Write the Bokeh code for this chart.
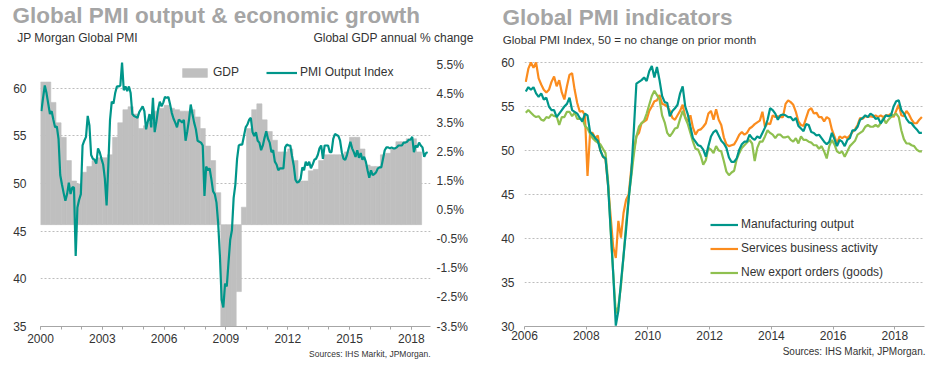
from bokeh.plotting import figure
from bokeh.models import (Range1d, LinearAxis, FixedTicker, PrintfTickFormatter,
                          Legend, LegendItem, Title)
from bokeh.layouts import row
from bokeh.embed import file_html
from bokeh.resources import INLINE

FONT = "Liberation Sans"
TEAL = "#00968a"
ORANGE = "#fb8c1e"
GREEN = "#8fc050"
BAR = "#bfbfbf"
GRID = "#bdbdbd"
TXT = "#333333"
TITLE = "#a5a5a5"

# ---------------- Left panel data ----------------
pmi_start_year = 2000
# JP Morgan Global PMI output index, monthly from Jan 2000
pmi_output = [
    57.6, 59.0, 60.3, 59.5, 58.4, 57.3, 57.6, 56.7, 55.9, 56.0, 54.7, 50.9,  # 2000
    49.9, 49.0, 48.2, 48.9, 50.1, 48.9, 49.6, 49.6, 42.4, 47.5, 48.3, 48.9,  # 2001
    54.0, 54.5, 54.9, 57.1, 56.1, 53.0, 52.6, 52.5, 52.1, 53.7, 53.3, 52.6,  # 2002
    52.0, 50.5, 47.7, 51.9, 56.7, 58.6, 58.4, 59.5, 60.2, 60.2, 60.3, 62.7,  # 2003
    59.8, 60.2, 59.7, 60.2, 59.5, 57.3, 57.1, 57.0, 56.9, 57.5, 57.8, 58.1,  # 2004
    57.6, 55.7, 56.5, 57.3, 55.9, 59.0, 55.4, 56.5, 57.8, 58.6, 58.1, 58.5,  # 2005
    59.1, 59.0, 59.1, 58.3, 57.4, 56.8, 56.4, 55.9, 56.7, 56.6, 56.4, 56.7,  # 2006
    54.5, 55.5, 56.7, 58.3, 57.3, 56.4, 55.7, 54.5, 54.4, 54.3, 54.0, 48.7,  # 2007
    51.8, 51.4, 51.6, 50.5, 49.2, 48.9, 48.0, 45.8, 42.4, 37.8, 37.0, 39.5,  # 2008
    39.2, 41.7, 44.1, 45.1, 48.5, 49.9, 52.6, 54.0, 54.1, 54.1, 55.0, 55.9,  # 2009
    56.2, 56.7, 56.9, 55.4, 55.0, 55.4, 54.5, 54.3, 53.5, 54.0, 54.8, 55.5,  # 2010
    54.7, 54.3, 53.3, 53.5, 52.3, 52.0, 51.4, 51.6, 51.6, 51.6, 53.8, 54.1,  # 2011
    54.0, 54.0, 52.9, 51.9, 50.4, 50.1, 50.2, 50.5, 51.7, 51.4, 52.3, 51.9,  # 2012
    52.3, 51.6, 52.0, 52.5, 52.6, 53.0, 53.7, 54.0, 52.6, 54.0, 54.0, 54.0,  # 2013
    53.3, 53.3, 54.7, 55.2, 55.1, 55.0, 54.5, 53.3, 52.6, 52.5, 53.0, 53.7,  # 2014
    54.4, 53.7, 53.3, 52.8, 53.5, 52.7, 53.2, 52.5, 52.8, 52.3, 51.4, 50.6,  # 2015
    51.4, 50.9, 51.0, 51.2, 51.6, 51.7, 51.7, 52.6, 53.5, 53.8, 53.8, 53.7,  # 2016
    53.8, 53.7, 53.7, 53.8, 54.0, 54.0, 54.0, 54.3, 54.3, 54.4, 54.6, 54.6,  # 2017
    54.9, 53.3, 54.0, 53.8, 54.3, 54.0, 53.8, 52.8, 53.2, 53.3,              # 2018
]
# Global GDP, annual % change, quarterly from 2000 Q1
gdp_growth = [
    4.9, 4.9, 4.2, 3.5,      # 2000
    3.0, 2.2, 1.5, 1.4,      # 2001
    1.8, 2.0, 2.2, 2.3,      # 2002
    2.3, 2.4, 3.0, 3.5,      # 2003
    3.95, 4.05, 3.8, 3.3,    # 2004
    3.4, 3.5, 3.9, 4.0,      # 2005
    4.1, 4.0, 3.95, 3.9,     # 2006
    3.9, 3.95, 3.7, 3.3,     # 2007
    2.7, 2.2, 1.1, -3.8,     # 2008
    -4.5, -4.0, -2.3, 0.6,   # 2009
    3.3, 3.95, 4.15, 3.6,    # 2010
    3.2, 2.9, 2.5, 2.5,      # 2011
    2.6, 2.2, 1.5, 1.5,      # 2012
    1.85, 1.9, 2.2, 2.4,     # 2013
    2.4, 2.4, 2.4, 2.5,      # 2014
    3.0, 3.0, 2.6, 2.05,     # 2015
    2.0, 2.0, 2.4, 2.45,     # 2016
    2.6, 2.85, 2.85, 2.95,   # 2017
    2.95, 2.5,               # 2018
]
left_year_ticks = [2000, 2003, 2006, 2009, 2012, 2015, 2018]
left_pmi_ticks = [35, 40, 45, 50, 55, 60]
left_gdp_ticks = [-3.5, -2.5, -1.5, -0.5, 0.5, 1.5, 2.5, 3.5, 4.5, 5.5]

# ---------------- Right panel data ----------------
ind_start_year = 2006
# Global PMI indices, monthly from Jan 2006
manufacturing_output = [
    56.7, 57.2, 56.9, 57.2, 56.5, 56.1, 56.5, 55.8, 56.0, 55.0, 54.6, 54.6,  # 2006
    53.8, 54.2, 54.6, 55.0, 55.3, 56.0, 54.6, 54.4, 54.2, 53.7, 53.3, 54.2,  # 2007
    54.0, 52.1, 51.8, 51.4, 51.1, 50.0, 49.3, 49.1, 46.0, 41.0, 36.0, 30.1,  # 2008
    31.8, 35.0, 38.0, 41.0, 44.5, 47.4, 52.3, 57.6, 57.8, 58.0, 58.3, 57.9,  # 2009
    59.0, 59.6, 58.3, 59.5, 58.0, 56.2, 55.5, 55.4, 53.9, 54.5, 54.8, 55.2,  # 2010
    56.5, 57.3, 55.0, 54.1, 52.7, 51.4, 51.0, 50.6, 50.5, 50.1, 49.3, 50.5,  # 2011
    51.6, 52.1, 52.3, 51.7, 51.1, 50.8, 50.3, 49.2, 48.7, 48.7, 49.1, 50.1,  # 2012
    50.7, 51.0, 51.0, 51.8, 51.4, 51.2, 51.6, 51.4, 52.0, 52.6, 53.5, 54.8,  # 2013
    54.6, 54.2, 53.5, 54.0, 54.1, 54.0, 53.8, 53.8, 53.4, 53.7, 52.8, 52.5,  # 2014
    52.2, 53.0, 52.9, 52.1, 52.0, 51.7, 51.8, 51.4, 51.0, 50.7, 51.0, 52.0,  # 2015
    51.3, 50.5, 51.2, 51.0, 50.5, 51.2, 51.4, 52.3, 52.3, 52.7, 53.5, 53.7,  # 2016
    54.0, 53.8, 54.2, 54.0, 53.6, 53.7, 53.1, 53.5, 54.0, 53.9, 54.0, 55.0,  # 2017
    55.6, 55.7, 54.6, 54.2, 53.6, 53.2, 53.1, 52.7, 52.4, 52.0, 52.0,        # 2018
]
services_activity = [
    57.8, 59.3, 60.0, 59.4, 60.0, 58.2, 57.5, 56.9, 56.6, 56.9, 57.8, 58.4,  # 2006
    57.3, 58.0, 56.6, 55.8, 57.3, 58.6, 58.8, 56.9, 55.4, 54.4, 54.5, 54.0,  # 2007
    47.1, 52.0, 52.0, 51.4, 51.7, 50.0, 49.3, 49.0, 46.0, 42.5, 39.0, 37.8,  # 2008
    42.0, 40.1, 42.9, 44.4, 45.0, 47.9, 50.0, 51.6, 52.0, 53.1, 53.3, 53.5,  # 2009
    54.5, 55.0, 55.6, 55.7, 56.3, 55.3, 55.2, 55.0, 54.5, 53.7, 53.5, 54.0,  # 2010
    54.5, 55.2, 53.8, 53.3, 54.0, 52.6, 51.8, 52.3, 52.4, 52.7, 53.1, 54.2,  # 2011
    54.5, 53.5, 54.7, 53.5, 52.9, 51.5, 50.7, 50.5, 50.6, 50.7, 51.2, 51.8,  # 2012
    52.1, 51.8, 52.0, 52.5, 52.7, 53.0, 53.2, 53.4, 54.4, 52.7, 53.1, 53.0,  # 2013
    54.0, 53.8, 53.9, 53.8, 53.8, 55.3, 55.7, 55.5, 55.2, 54.4, 53.3, 52.9,  # 2014
    52.8, 53.7, 54.6, 54.8, 54.2, 54.3, 53.8, 53.8, 53.3, 53.8, 53.6, 52.4,  # 2015
    51.6, 50.8, 51.6, 51.4, 51.6, 51.4, 51.7, 52.1, 52.4, 52.9, 53.7, 53.6,  # 2016
    53.9, 53.8, 53.9, 53.8, 54.0, 53.8, 54.0, 53.8, 54.0, 54.0, 54.2, 53.8,  # 2017
    54.5, 55.2, 54.0, 53.9, 54.5, 54.1, 53.5, 53.1, 53.1, 53.5, 53.8,        # 2018
]
new_export_orders = [
    54.3, 54.6, 54.3, 54.0, 53.8, 53.9, 53.5, 53.4, 53.8, 53.7, 54.1, 53.9,  # 2006
    53.9, 52.9, 53.8, 53.8, 54.4, 54.4, 53.9, 54.3, 53.6, 53.6, 53.6, 52.8,  # 2007
    52.5, 51.9, 51.4, 51.1, 50.9, 50.7, 50.2, 49.7, 46.5, 41.0, 36.0, 31.5,  # 2008
    32.3, 34.6, 38.0, 41.6, 44.6, 47.0, 49.5, 51.6, 52.7, 53.1, 53.4, 54.2,  # 2009
    55.2, 56.2, 56.8, 56.3, 55.8, 54.0, 53.2, 52.0, 51.6, 52.0, 52.5, 52.6,  # 2010
    53.6, 54.5, 53.7, 53.0, 52.0, 51.0, 50.2, 50.1, 49.4, 48.4, 48.9, 50.3,  # 2011
    50.1, 49.7, 50.5, 50.0, 49.9, 48.8, 47.6, 47.2, 47.5, 47.7, 49.0, 49.7,  # 2012
    50.3, 50.6, 50.9, 51.2, 50.8, 48.8, 50.3, 51.0, 51.0, 51.6, 52.3, 52.0,  # 2013
    51.8, 51.4, 51.8, 51.8, 51.5, 51.5, 51.6, 51.2, 51.0, 51.4, 50.8, 51.6,  # 2014
    51.2, 51.2, 51.0, 50.9, 50.6, 50.6, 50.2, 50.5, 49.9, 49.1, 50.5, 51.2,  # 2015
    50.7, 49.9, 49.7, 49.9, 49.3, 49.9, 50.5, 50.8, 51.1, 51.8, 52.0, 52.2,  # 2016
    52.7, 52.9, 52.7, 52.7, 52.9, 52.7, 53.1, 53.7, 53.1, 53.5, 53.8, 54.0,  # 2017
    54.2, 53.8, 52.3, 51.3, 50.8, 50.8, 50.6, 50.5, 50.1, 49.9, 49.9,        # 2018
]
right_year_ticks = [2006, 2008, 2010, 2012, 2014, 2016, 2018]
right_pmi_ticks = [30, 35, 40, 45, 50, 55, 60]

# ---------------- helpers ----------------
H = 359          # both figures; plot frames share top/bottom borders in a row
TOP, BOTTOM = 58, 33


def months(start, n):
    return [start + (i + 0.5) / 12 for i in range(n)]


def style_common(p):
    p.outline_line_color = None
    p.background_fill_color = "white"
    p.border_fill_color = "white"
    p.xgrid.visible = False
    p.ygrid.grid_line_color = GRID
    p.ygrid.grid_line_dash = "2 2"
    p.ygrid.grid_line_width = 1


def style_tick_axis(ax, size="12px"):
    ax.major_label_text_font = FONT
    ax.major_label_text_font_size = size
    ax.major_label_text_color = TXT


def bare_axis(ax):
    ax.axis_line_color = None
    ax.major_tick_line_color = None
    ax.minor_tick_line_color = None
    ax.major_tick_out = 0
    ax.major_tick_in = 0
    ax.minor_tick_out = 0
    ax.minor_tick_in = 0


def make_title(text, size, bold=False, color=TXT, align="left", offset=0, standoff=0,
               valign="bottom"):
    return Title(text=text, text_font=FONT, text_font_size=size,
                 text_font_style="bold" if bold else "normal", text_color=color,
                 align=align, offset=offset, standoff=standoff, vertical_align=valign)


def caption_axis(range_name, captions, size, standoff):
    """An axis above the frame that carries only caption texts."""
    ax = LinearAxis(x_range_name=range_name, ticker=FixedTicker(ticks=list(captions)),
                    major_label_overrides=captions)
    bare_axis(ax)
    ax.major_label_standoff = standoff
    style_tick_axis(ax, size)
    return ax


# ---------------- Left figure ----------------
W1 = 474
L1, R1 = 40, 44
p1 = figure(width=W1, height=H, output_backend="svg", toolbar_location=None,
            x_range=Range1d(2000, 2018.93), y_range=Range1d(35, 62.92),
            min_border_left=L1, min_border_right=R1,
            min_border_top=TOP, min_border_bottom=BOTTOM)
style_common(p1)
p1.extra_y_ranges = {"gdp": Range1d(-3.5, 5.64)}
p1.extra_x_ranges = {"hdr": Range1d(0, W1 - L1 - R1)}

gdp_x = [2000 + q * 0.25 + 0.125 for q in range(len(gdp_growth))]
bars = p1.vbar(x=gdp_x, width=0.25, top=gdp_growth, bottom=0, y_range_name="gdp",
               fill_color=BAR, line_color=BAR, line_width=0.6)
pmi_line = p1.line(months(pmi_start_year, len(pmi_output)), pmi_output,
                   line_color=TEAL, line_width=2.2)

p1.ygrid.ticker = FixedTicker(ticks=left_pmi_ticks)
ya = p1.yaxis[0]
ya.ticker = FixedTicker(ticks=left_pmi_ticks)
bare_axis(ya)
ya.major_label_standoff = 14
style_tick_axis(ya)

ra = LinearAxis(y_range_name="gdp", ticker=FixedTicker(ticks=left_gdp_ticks),
                formatter=PrintfTickFormatter(format="%.1f%%"))
bare_axis(ra)
ra.major_label_standoff = 6
style_tick_axis(ra)
p1.add_layout(ra, "right")

xa = p1.xaxis[0]
xa.ticker = FixedTicker(ticks=left_year_ticks, minor_ticks=list(range(2000, 2020)))
xa.formatter = PrintfTickFormatter(format="%d")
xa.axis_line_color = "#a6a6a6"
xa.major_tick_line_color = "#a6a6a6"
xa.minor_tick_line_color = "#a6a6a6"
xa.major_tick_out = 3
xa.minor_tick_out = 3
xa.major_tick_in = 0
xa.minor_tick_in = 0
xa.major_label_standoff = 4
style_tick_axis(xa)

p1.add_layout(caption_axis("hdr", {37: "JP Morgan Global PMI",
                                   353: "Global GDP annual % change"}, "12px", 16), "above")
p1.add_layout(make_title("Global PMI output & economic growth", "22.5px", bold=True,
                         color=TITLE, offset=-28, standoff=0), "above")
p1.add_layout(make_title("Sources: IHS Markit, JPMorgan.", "8.5px", align="right",
                         offset=0, standoff=2), "below")

leg1 = Legend(items=[LegendItem(label="GDP", renderers=[bars]),
                     LegendItem(label="PMI Output Index", renderers=[pmi_line])],
              orientation="horizontal", location=(139, 247),
              glyph_width=31, glyph_height=11, label_height=14, label_width=10,
              label_standoff=3, spacing=27, padding=0, margin=0,
              border_line_color=None, background_fill_alpha=0,
              label_text_font=FONT, label_text_font_size="12px", label_text_color=TXT)
p1.add_layout(leg1)

# ---------------- Right figure ----------------
W2 = 927 - W1
L2, R2 = 50, 3
p2 = figure(width=W2, height=H, output_backend="svg", toolbar_location=None,
            x_range=Range1d(2006, 2018.96), y_range=Range1d(30, 60.23),
            min_border_left=L2, min_border_right=R2,
            min_border_top=TOP, min_border_bottom=BOTTOM)
style_common(p2)
p2.ygrid.ticker = FixedTicker(ticks=right_pmi_ticks)
p2.extra_x_ranges = {"hdr": Range1d(0, W2 - L2 - R2)}

l_s = p2.line(months(ind_start_year, len(services_activity)), services_activity,
              line_color=ORANGE, line_width=2.2)
l_e = p2.line(months(ind_start_year, len(new_export_orders)), new_export_orders,
              line_color=GREEN, line_width=2.2)
l_m = p2.line(months(ind_start_year, len(manufacturing_output)), manufacturing_output,
              line_color=TEAL, line_width=2.2)

ya2 = p2.yaxis[0]
ya2.ticker = FixedTicker(ticks=right_pmi_ticks)
bare_axis(ya2)
ya2.major_label_standoff = 10
style_tick_axis(ya2)

xa2 = p2.xaxis[0]
xa2.ticker = FixedTicker(ticks=right_year_ticks)
xa2.formatter = PrintfTickFormatter(format="%d")
xa2.axis_line_color = "#a6a6a6"
xa2.major_tick_line_color = "#a6a6a6"
xa2.minor_tick_line_color = None
xa2.major_tick_out = 3
xa2.major_tick_in = 0
xa2.major_label_standoff = 1
style_tick_axis(xa2)

p2.add_layout(caption_axis("hdr", {105: "Global PMI Index, 50 = no change on prior month"},
                           "11.6px", 15), "above")
p2.add_layout(make_title("Global PMI indicators", "22.5px", bold=True, color=TITLE,
                         offset=-22, standoff=0), "above")
p2.add_layout(make_title("Sources: IHS Markit, JPMorgan.", "10px", align="right",
                         offset=-1, standoff=3), "below")

leg2 = Legend(items=[LegendItem(label="Manufacturing output", renderers=[l_m]),
                     LegendItem(label="Services business activity", renderers=[l_s]),
                     LegendItem(label="New export orders (goods)", renderers=[l_e])],
              orientation="vertical", location=(186, 47),
              glyph_width=28, glyph_height=11, label_height=14, label_width=10,
              label_standoff=3, spacing=10, padding=0, margin=0,
              border_line_color=None, background_fill_alpha=0,
              label_text_font=FONT, label_text_font_size="12px", label_text_color=TXT)
p2.add_layout(leg2)

layout = row(p1, p2)
open("out.html", "w").write(file_html(layout, INLINE))
